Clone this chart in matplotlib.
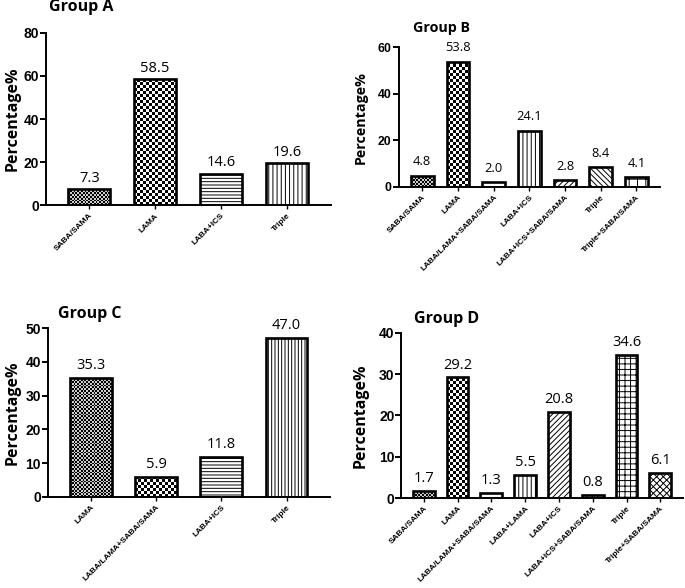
import numpy as np
import matplotlib
matplotlib.use("Agg")
import matplotlib.pyplot as plt

# data
cats_a = ["SABA/SAMA", "LAMA", "LABA+ICS", "Triple"]
vals_a = [7.3, 58.5, 14.6, 19.6]

cats_b = ["SABA/SAMA", "LAMA", "LABA/LAMA+SABA/SAMA", "LABA+ICS",
          "LABA+ICS+SABA/SAMA", "Triple", "Triple+SABA/SAMA"]
vals_b = [4.8, 53.8, 2.0, 24.1, 2.8, 8.4, 4.1]

cats_c = ["LAMA", "LABA/LAMA+SABA/SAMA", "LABA+ICS", "Triple"]
vals_c = [35.3, 5.9, 11.8, 47.0]

cats_d = ["SABA/SAMA", "LAMA", "LABA/LAMA+SABA/SAMA", "LABA+LAMA", "LABA+ICS",
          "LABA+ICS+SABA/SAMA", "Triple", "Triple+SABA/SAMA"]
vals_d = [1.7, 29.2, 1.3, 5.5, 20.8, 0.8, 34.6, 6.1]

# fill style per bar: 'fine'/'coarse' = checkerboard, otherwise a hatch string
fills_a = ["fine", "coarse", "-----", "||||"]
fills_b = ["fine", "coarse", "", "||||", "//////", "\\\\\\\\\\\\", "++"]
fills_c = ["fine", "coarse", "-----", "|||||"]
fills_d = ["fine", "coarse", "", "||||", "//////", "//////", "+++", "xxxxx"]

plt.rcParams['hatch.linewidth'] = 0.7
TICK_FONT = "Liberation Sans"
TEXT_FONT = "Open Sans"

fig = plt.figure(figsize=(6.85, 5.88), dpi=100)


def checker(ax, bar, cell, light):
    bb = bar.get_window_extent()
    nx = max(int(bb.width / cell) + 1, 1)
    ny = max(int(bb.height / cell) + 1, 1)
    arr = (np.add.outer(np.arange(ny), np.arange(nx)) % 2) * light
    x0 = bar.get_x()
    ext = (x0, x0 + bar.get_width() * (nx * cell / bb.width), 0,
           bar.get_height() * (ny * cell / bb.height))
    im = ax.imshow(arr, cmap="gray", vmin=0, vmax=1, extent=ext, origin="lower",
                   aspect="auto", interpolation="nearest", zorder=1.5)
    im.set_clip_path(bar)


def panel(rect, cats, vals, fills, ymax, ystep, title, title_xy, ylab_x, fs, gap):
    ax = fig.add_axes(rect)
    x = np.arange(len(cats))
    ax.set_xlim(-0.66, len(cats) - 0.33)
    ax.set_ylim(0, ymax)
    bars = ax.bar(x, vals, width=0.64, color="white", edgecolor="black",
                  linewidth=1.9, zorder=2)
    for b, f in zip(bars, fills):
        if f == "fine":
            b.set_facecolor("none")
            checker(ax, b, 1.8, 0.8)
        elif f == "coarse":
            b.set_facecolor("none")
            checker(ax, b, 3.0, 1.0)
        elif f:
            b.set_hatch(f)
    ax.set_xlim(-0.66, len(cats) - 0.33)
    ax.set_ylim(0, ymax)
    for b, v in zip(bars, vals):
        ax.annotate(f"{v:.1f}", (b.get_x() + b.get_width() / 2, v),
                    xytext=(0, gap), textcoords="offset points", ha="center",
                    va="bottom", fontsize=fs + 1, family=TEXT_FONT)
    ax.set_yticks(np.arange(0, ymax + 1, ystep))
    ax.set_xticks(x)
    ax.set_xticklabels(cats, rotation=45, ha="right", rotation_mode="anchor",
                       fontsize=6.0, fontweight="bold", family=TICK_FONT)
    for lab in ax.get_yticklabels():
        lab.set_fontsize(fs + 0.5)
        lab.set_fontweight("bold")
        lab.set_family(TICK_FONT)
    for s in ["top", "right"]:
        ax.spines[s].set_visible(False)
    for s in ["left", "bottom"]:
        ax.spines[s].set_linewidth(1.4)
    ax.tick_params(axis="y", width=1.4, length=4, pad=1)
    ax.tick_params(axis="x", width=1.0, length=3, pad=2)
    fig.text(ylab_x, rect[1] + rect[3] / 2, "Percentage%", rotation=90,
             ha="center", va="center", fontsize=fs + 2, fontweight="bold",
             family=TEXT_FONT)
    fig.text(title_xy[0], title_xy[1], title, ha="left", va="center",
             fontsize=fs + 2, fontweight="bold", family=TEXT_FONT)
    return ax


panel([0.067, 0.651, 0.416, 0.293], cats_a, vals_a, fills_a, 80, 20,
      "Group A", (0.071, 1 - 7 / 588), 0.018, 9.5, 2.5)
panel([0.582, 0.682, 0.382, 0.238], cats_b, vals_b, fills_b, 60, 20,
      "Group B", (0.603, 1 - 28 / 588), 0.526, 8.3, 5.5)
panel([0.070, 0.155, 0.412, 0.287], cats_c, vals_c, fills_c, 50, 10,
      "Group C", (0.085, 1 - 314 / 588), 0.018, 9.5, 3.5)
panel([0.586, 0.153, 0.411, 0.281], cats_d, vals_d, fills_d, 40, 10,
      "Group D", (0.604, 1 - 319 / 588), 0.526, 9.5, 3.5)

fig.savefig("out.png", dpi=100)
